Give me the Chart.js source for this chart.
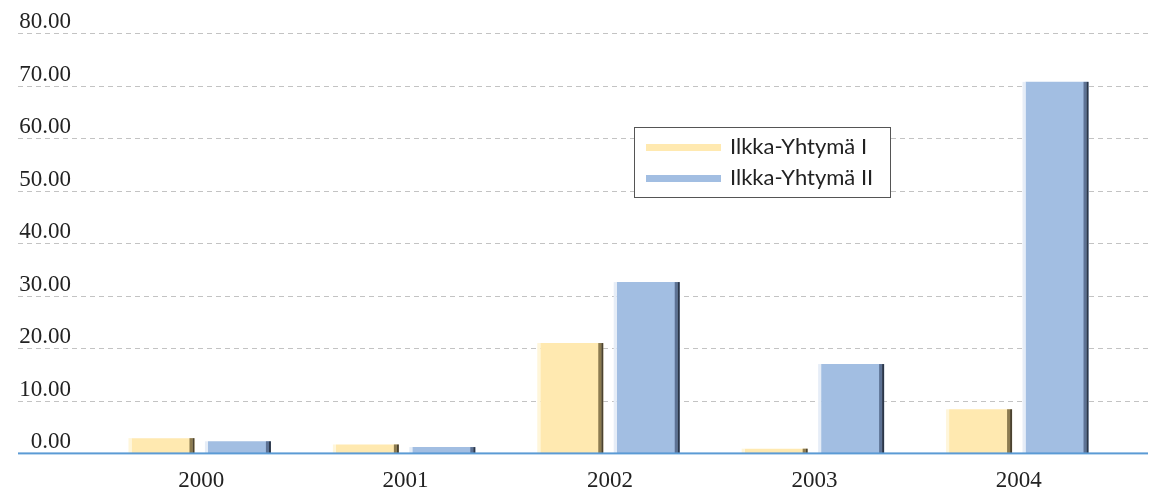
<!DOCTYPE html>
<html>
<head>
<meta charset="utf-8">
<script src="https://cdn.jsdelivr.net/npm/chart.js@4"></script>
<style>
  html, body { margin: 0; padding: 0; background: #ffffff; }
  #wrap { width: 1150px; height: 493px; }
</style>
</head>
<body>
<div id="wrap"><canvas id="mycanvas" width="1150" height="493"></canvas></div>
<script>
var years = ["2000", "2001", "2002", "2003", "2004"];
var ilkkaI = [2.9, 1.7, 21.0, 0.9, 8.4];
var ilkkaII = [2.3, 1.2, 32.6, 17.0, 70.7];
var seriesNames = ["Ilkka-Yhtymä I", "Ilkka-Yhtymä II"];
var yTicks = [0, 10, 20, 30, 40, 50, 60, 70, 80];

var numFont = '"Liberation Serif", serif';
var legFont = 'Lato, sans-serif';

// edge shades for the bevelled look: [light left, dark mid, darkest right]
var edges = [
    ['#fff6da', '#8c7b50', '#4b4230'],
    ['#e6edf7', '#5d7294', '#2b3648']
];

var decor = {
    id: 'decor',
    beforeDatasetsDraw: function(chart){
        var ctx = chart.ctx;
        var y = chart.scales.y;
        ctx.save();
        ctx.strokeStyle = '#c3c3c3';
        ctx.lineWidth = 1;
        ctx.setLineDash([5, 4]);
        ctx.font = '23px ' + numFont;
        ctx.fillStyle = '#222222';
        ctx.textBaseline = 'alphabetic';
        ctx.textAlign = 'right';
        for (var i = 0; i < yTicks.length; i++) {
            var py = Math.round(y.getPixelForValue(yTicks[i])) + 0.5;
            if (yTicks[i] > 0) {
                ctx.beginPath();
                ctx.moveTo(18, py);
                ctx.lineTo(1148, py);
                ctx.stroke();
            }
            ctx.fillText(yTicks[i].toFixed(2), 71, py - 6);
        }
        ctx.restore();
    },
    afterDatasetsDraw: function(chart){
        var ctx = chart.ctx;
        ctx.save();
        chart.data.datasets.forEach(function(ds, di){
            var meta = chart.getDatasetMeta(di);
            meta.data.forEach(function(bar){
                var left = bar.x - bar.width / 2;
                var right = bar.x + bar.width / 2;
                var top = bar.y;
                var h = bar.base - bar.y;
                ctx.fillStyle = edges[di][0];
                ctx.fillRect(left - 3, top, 3, h);
                ctx.fillStyle = edges[di][1];
                ctx.fillRect(right - 5, top, 3, h);
                ctx.fillStyle = edges[di][2];
                ctx.fillRect(right - 2, top, 2, h);
            });
        });
        // baseline
        var y0 = chart.scales.y.getPixelForValue(0);
        ctx.fillStyle = '#5b9bd5';
        ctx.fillRect(18, y0 - 1, 1130, 2);

        // legend box
        ctx.fillStyle = '#ffffff';
        ctx.fillRect(634, 127, 256, 70);
        ctx.strokeStyle = '#555555';
        ctx.lineWidth = 1;
        ctx.strokeRect(634.5, 127.5, 256, 70);
        ctx.font = '22px ' + legFont;
        ctx.textBaseline = 'middle';
        ctx.textAlign = 'left';
        chart.data.datasets.forEach(function(ds, di){
            var ly = 147 + di * 31;
            ctx.fillStyle = ds.backgroundColor;
            ctx.fillRect(646, ly - 3, 75, 7);
            ctx.fillStyle = '#222222';
            ctx.fillText(ds.label, 730, ly);
        });
        ctx.restore();
    }
};

var chartData = {
    labels: years,
    datasets: [
        {
            label: seriesNames[0],
            data: ilkkaI,
            backgroundColor: '#ffe9b0',
            categoryPercentage: 0.748,
            barPercentage: 0.824
        },
        {
            label: seriesNames[1],
            data: ilkkaII,
            backgroundColor: '#a2bee2',
            categoryPercentage: 0.748,
            barPercentage: 0.824
        }
    ]
};

var myChart = new Chart(document.getElementById('mycanvas'), {
    type: 'bar',
    data: chartData,
    plugins: [decor],
    options: {
        responsive: false,
        animation: false,
        layout: { padding: { left: 99, right: 29, top: 33, bottom: -8 } },
        plugins: {
            legend: { display: false },
            tooltip: { enabled: false }
        },
        scales: {
            x: {
                grid: { display: false },
                border: { display: false },
                ticks: { color: '#222222', font: { family: numFont, size: 23 }, padding: 6 }
            },
            y: {
                display: false,
                min: 0,
                max: 80,
                ticks: { stepSize: 10 }
            }
        }
    }
});
</script>
</body>
</html>
